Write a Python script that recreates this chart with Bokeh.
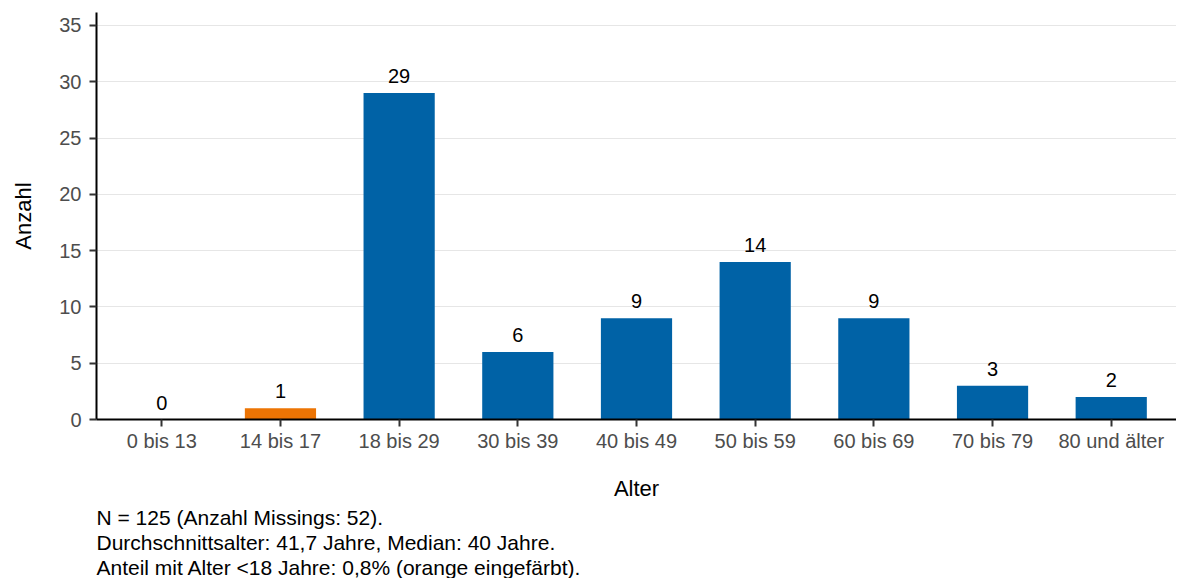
from bokeh.plotting import figure
from bokeh.models import ColumnDataSource, Range1d, FixedTicker, Title, LabelSet
from bokeh.core.properties import value
from bokeh.embed import file_html
from bokeh.resources import INLINE

categories = ["0 bis 13", "14 bis 17", "18 bis 29", "30 bis 39", "40 bis 49",
              "50 bis 59", "60 bis 69", "70 bis 79", "80 und älter"]
counts = [0, 1, 29, 6, 9, 14, 9, 3, 2]
colors = ["#0062A6", "#EC7404", "#0062A6", "#0062A6", "#0062A6",
          "#0062A6", "#0062A6", "#0062A6", "#0062A6"]
y_ticks = [0, 5, 10, 15, 20, 25, 30, 35]
footnotes = ["N = 125 (Anzahl Missings: 52).",
             "Durchschnittsalter: 41,7 Jahre, Median: 40 Jahre.",
             "Anteil mit Alter <18 Jahre: 0,8% (orange eingefärbt)."]

FONT = "Liberation Sans"
idx = list(range(len(categories)))
src = ColumnDataSource(dict(x=idx, y=counts, c=colors, lab=[str(v) for v in counts]))

p = figure(width=1176, height=578, output_backend="svg", toolbar_location=None,
           x_range=Range1d(-0.55, len(categories) - 0.45), y_range=Range1d(0, 36.15),
           min_border_left=96, min_border_right=0, min_border_top=12, min_border_bottom=0)
p.outline_line_color = None
p.background_fill_color = "white"
p.border_fill_color = "white"

p.vbar(x="x", top="y", width=0.6, color="c", source=src, line_color=None)
p.add_layout(LabelSet(x="x", y="y", text="lab", source=src, text_align="center",
                      text_baseline="bottom", y_offset=10, text_font=value(FONT),
                      text_font_size="20px", text_color="black"))

p.xgrid.grid_line_color = None
p.ygrid.grid_line_color = "#E6E6E6"
p.ygrid.grid_line_width = 1
p.ygrid.ticker = FixedTicker(ticks=y_ticks)

p.xaxis.ticker = FixedTicker(ticks=idx)
p.xaxis.major_label_overrides = {i: c for i, c in zip(idx, categories)}
p.yaxis.ticker = FixedTicker(ticks=y_ticks)

for ax in (p.xaxis[0], p.yaxis[0]):
    ax.axis_line_color = "black"
    ax.axis_line_width = 2
    ax.major_tick_line_color = "#333333"
    ax.major_tick_line_width = 2
    ax.major_tick_out = 7
    ax.major_tick_in = 0
    ax.minor_tick_line_color = None
    ax.major_label_text_font = FONT
    ax.major_label_text_font_size = "20px"
    ax.major_label_text_color = "#4D4D4D"
    ax.axis_label_text_font = FONT
    ax.axis_label_text_font_size = "22px"
    ax.axis_label_text_font_style = "normal"
    ax.axis_label_text_color = "black"

p.xaxis.axis_label = "Alter"
p.yaxis.axis_label = "Anzahl"
p.xaxis.major_label_standoff = 3
p.xaxis.axis_label_standoff = 21
p.yaxis.major_label_standoff = 8
p.yaxis.axis_label_standoff = 20

for i, t in enumerate(footnotes):
    p.add_layout(Title(text=t, align="left", offset=0, text_font=FONT,
                       text_font_size="21px", text_font_style="normal",
                       text_color="black", standoff=0,
                       text_line_height=1.0), "below")

open("out.html", "w").write(file_html(p, INLINE))
